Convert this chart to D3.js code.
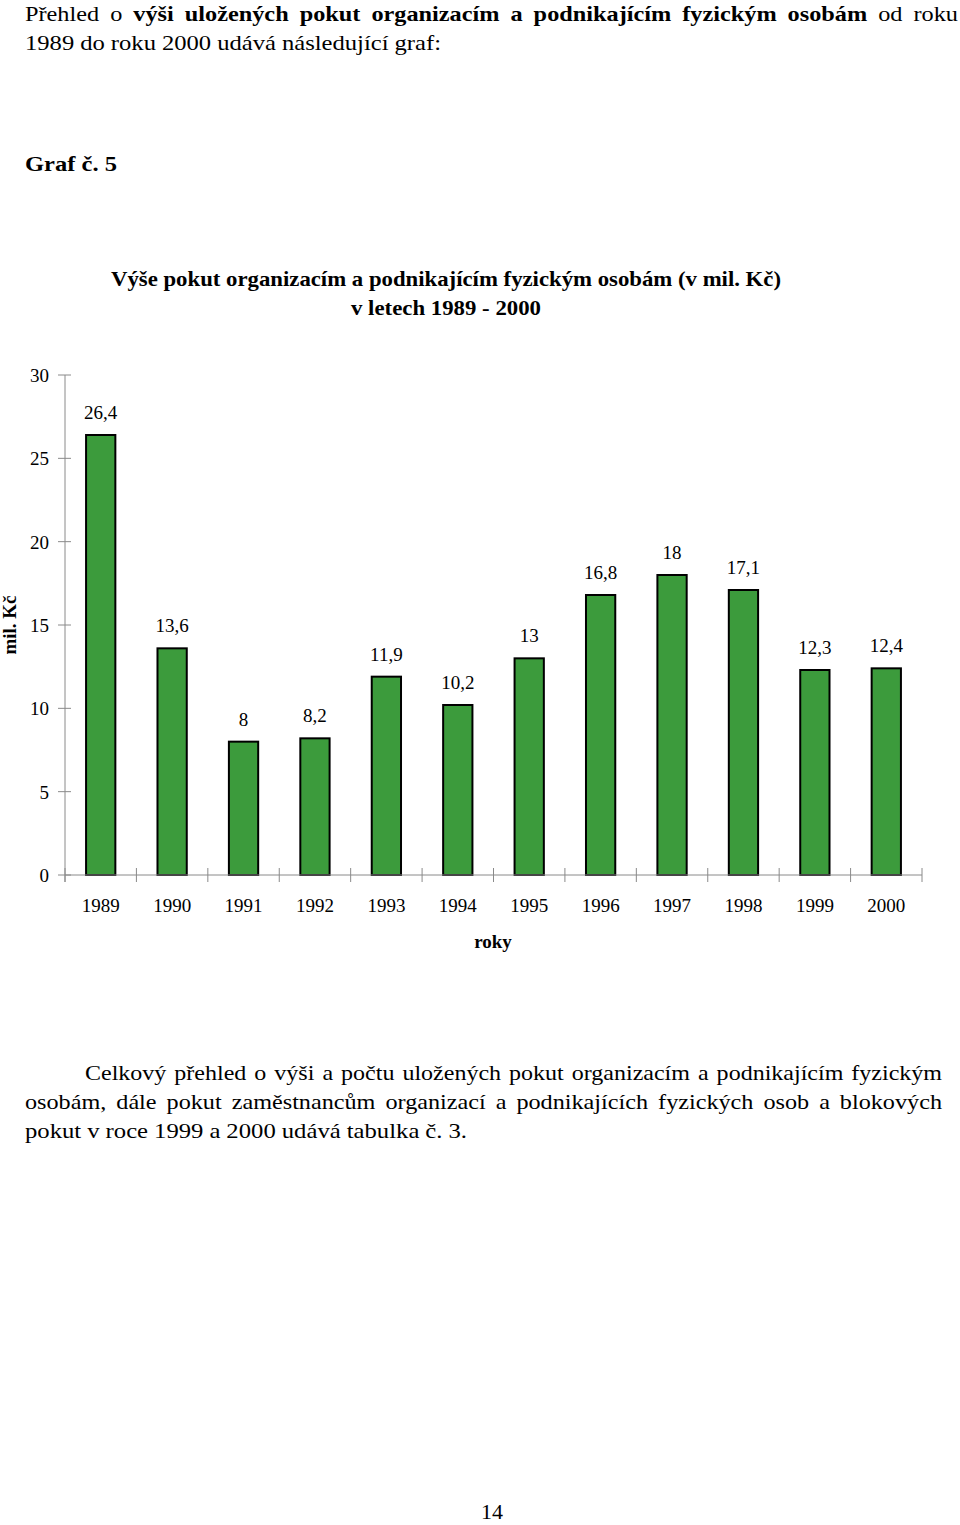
<!DOCTYPE html>
<html><head><meta charset="utf-8">
<script src="https://cdn.jsdelivr.net/npm/d3@7"></script>
<style>
html,body{margin:0;padding:0;background:#fff;}
svg{display:block;font-family:"Liberation Serif","Times New Roman",serif;}
</style></head>
<body>
<svg id="page" width="960" height="1525"></svg>
<script>
const years = ["1989","1990","1991","1992","1993","1994","1995","1996","1997","1998","1999","2000"];
const values = [26.4,13.6,8,8.2,11.9,10.2,13,16.8,18,17.1,12.3,12.4];
const valueLabels = ["26,4","13,6","8","8,2","11,9","10,2","13","16,8","18","17,1","12,3","12,4"];
const yTicks = [0,5,10,15,20,25,30];

const svg = d3.select("#page");

// justified line helper: words are stretched horizontally so that gaps equal `gap`
function justifyLine(words, x0, x1, y, size, gap) {
  const g = svg.append("g");
  const nodes = words.map(w => g.append("text")
      .attr("y", y).attr("font-size", size)
      .attr("font-weight", w.b ? "bold" : "normal")
      .attr("fill", "#000").text(w.t));
  const widths = nodes.map(n => n.node().getComputedTextLength());
  const total = d3.sum(widths);
  const s = (x1 - x0 - gap * (words.length - 1)) / total;
  let x = x0;
  nodes.forEach((n, i) => {
    const w = widths[i] * s;
    n.attr("x", x).attr("textLength", w).attr("lengthAdjust", "spacingAndGlyphs");
    x += w + gap;
  });
  return g;
}
function wordsOf(str, b) { return str.split(" ").map(t => ({t, b})); }

// Top paragraph
justifyLine([...wordsOf("Přehled o", false),
  ...wordsOf("výši uložených pokut organizacím a podnikajícím fyzickým osobám", true),
  ...wordsOf("od roku", false)], 25, 958, 21, 22, 11);
justifyLine(wordsOf("1989 do roku 2000 udává následující graf:", false), 25, 441, 50, 22, 6);

// Graf č. 5
svg.append("text").attr("x", 25).attr("y", 171).attr("font-size", 22).attr("font-weight", "bold")
  .attr("textLength", 92).attr("lengthAdjust", "spacingAndGlyphs")
  .text("Graf č. 5");

// Chart title
svg.append("text").attr("x", 111).attr("y", 286).attr("font-size", 21).attr("font-weight", "bold")
  .attr("textLength", 670).attr("lengthAdjust", "spacingAndGlyphs")
  .text("Výše pokut organizacím a podnikajícím fyzickým osobám (v mil. Kč)");
svg.append("text").attr("x", 351).attr("y", 315).attr("font-size", 21).attr("font-weight", "bold")
  .attr("textLength", 190).attr("lengthAdjust", "spacingAndGlyphs")
  .text("v letech 1989 - 2000");

// Chart
const x0 = 65, x1 = 922, yTop = 375, yBot = 875;
const x = d3.scaleBand().domain(years).range([x0, x1]).paddingInner(0.59).paddingOuter(0.295);
const y = d3.scaleLinear().domain([0, 30]).range([yBot, yTop]);
const band = (x1 - x0) / years.length;

const axisColor = "#8a8a8a";
// Y axis
svg.append("line").attr("x1", x0).attr("x2", x0).attr("y1", y(30)).attr("y2", yBot + 7)
  .attr("stroke", axisColor).attr("stroke-width", 1);
svg.selectAll(".ytick").data(yTicks).enter().append("line")
  .attr("x1", x0 - 7).attr("x2", x0 + 6).attr("y1", d => y(d)).attr("y2", d => y(d))
  .attr("stroke", axisColor).attr("stroke-width", 1);
svg.selectAll(".ylab").data(yTicks).enter().append("text")
  .attr("x", 49).attr("y", d => y(d) + 7).attr("text-anchor", "end").attr("font-size", 19)
  .text(d => d);

// Bars
svg.selectAll(".bar").data(values).enter().append("rect")
  .attr("x", (d, i) => x(years[i])).attr("width", x.bandwidth())
  .attr("y", d => y(d)).attr("height", d => yBot - y(d))
  .attr("fill", "#3c9b3c").attr("stroke", "#000").attr("stroke-width", 2);

// X axis
svg.append("line").attr("x1", x0).attr("x2", x1).attr("y1", yBot).attr("y2", yBot)
  .attr("stroke", axisColor).attr("stroke-width", 1);
const xt = d3.range(years.length + 1).map(i => x0 + i * band);
svg.selectAll(".xtick").data(xt).enter().append("line")
  .attr("x1", d => d).attr("x2", d => d).attr("y1", yBot - 7).attr("y2", yBot + 7)
  .attr("stroke", axisColor).attr("stroke-width", 1);
svg.selectAll(".xlab").data(years).enter().append("text")
  .attr("x", d => x(d) + x.bandwidth() / 2).attr("y", 912).attr("text-anchor", "middle")
  .attr("font-size", 19).text(d => d);

// Value labels
svg.selectAll(".vlab").data(values).enter().append("text")
  .attr("x", (d, i) => x(years[i]) + x.bandwidth() / 2).attr("y", d => y(d) - 16)
  .attr("text-anchor", "middle").attr("font-size", 19)
  .text((d, i) => valueLabels[i]);

// Axis titles
svg.append("text").attr("x", 493).attr("y", 948).attr("text-anchor", "middle")
  .attr("font-size", 19).attr("font-weight", "bold").text("roky");
svg.append("text").attr("transform", "translate(16,625) rotate(-90)").attr("text-anchor", "middle")
  .attr("font-size", 19).attr("font-weight", "bold").text("mil. Kč");

// Bottom paragraph
justifyLine(wordsOf("Celkový přehled o výši a počtu uložených pokut organizacím a podnikajícím fyzickým", false),
  85, 942, 1080, 22, 8);
justifyLine(wordsOf("osobám, dále pokut zaměstnancům organizací a podnikajících fyzických osob a blokových", false),
  25, 942, 1109, 22, 10);
justifyLine(wordsOf("pokut v roce 1999 a 2000 udává tabulka č. 3.", false), 25, 467, 1138, 22, 6);

// Page number
svg.append("text").attr("x", 492).attr("y", 1519).attr("text-anchor", "middle").attr("font-size", 22).text("14");
</script>
</body></html>
